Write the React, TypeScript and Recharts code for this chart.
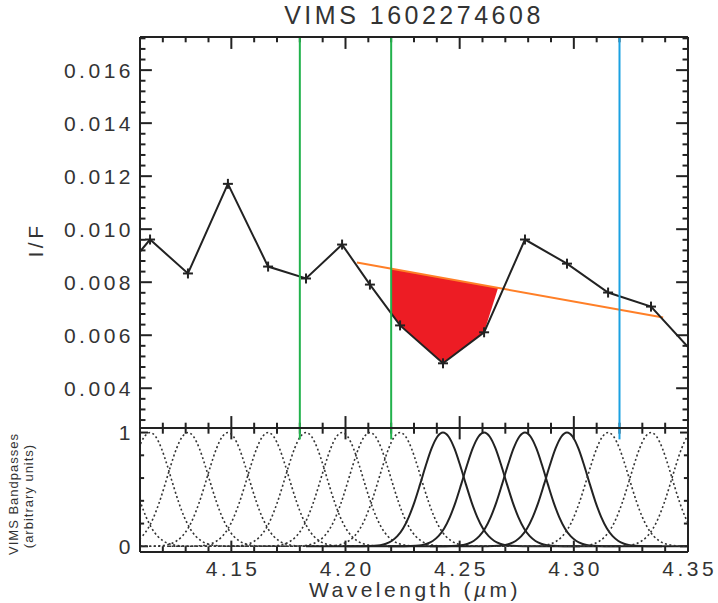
import React from 'react';
import { ComposedChart, Line, Area, XAxis, YAxis, ReferenceLine } from 'recharts';

const wavelengths = [4.0977, 4.1144, 4.131, 4.1485, 4.1661, 4.1827, 4.1985, 4.2107, 4.2239, 4.2427, 4.2607, 4.2786, 4.297, 4.315, 4.3338, 4.3522];
const iof = [0.00787, 0.00961, 0.00833, 0.01171, 0.00859, 0.00814, 0.00942, 0.00791, 0.00637, 0.00494, 0.00611, 0.00961, 0.0087, 0.00761, 0.00708, 0.00535];
// channels drawn with a solid bandpass (the rest are dotted)
const solidBand = [false, false, false, false, false, false, false, false, false, true, true, true, true, false, false, false];

// continuum line
const continuumX = [4.205, 4.3391];
const continuumY = [0.00874, 0.00667];

// red absorption area, between spectrum (low) and continuum (high)
const fillX = [4.22, 4.2239, 4.2427, 4.2607, 4.2668];
const fillLow = [0.00684, 0.00637, 0.00494, 0.00611, 0.00778];
const fillHigh = [0.00851, 0.00845, 0.00816, 0.00788, 0.00778];

// vertical marker wavelengths
const markerX = [4.18, 4.22, 4.32];

// normalised bandpass shape: offset from channel centre (µm) vs response
const profileOffset = [-0.06, -0.05, -0.04, -0.035, -0.03, -0.0275, -0.025, -0.0225, -0.02, -0.0175, -0.015, -0.0125, -0.01, -0.0075, -0.005, -0.0025, 0,
  0.0025, 0.005, 0.0075, 0.01, 0.0125, 0.015, 0.0175, 0.02, 0.0225, 0.025, 0.0275, 0.03, 0.035, 0.04, 0.05, 0.06];
const profileResp = [0, 0, 0, 0.0006, 0.0044, 0.0104, 0.023, 0.047, 0.089, 0.157, 0.257, 0.389, 0.547, 0.712, 0.86, 0.963, 1,
  0.963, 0.86, 0.712, 0.547, 0.389, 0.257, 0.157, 0.089, 0.047, 0.023, 0.0104, 0.0044, 0.0006, 0, 0, 0];

// axes
const xDomain = [4.11, 4.35];
const xMajor = [4.15, 4.2, 4.25, 4.3, 4.35];
const xLabels = ['4.15', '4.20', '4.25', '4.30', '4.35'];
const iofDomain = [0.0025, 0.01725];
const iofMajor = [0.004, 0.006, 0.008, 0.01, 0.012, 0.014, 0.016];
const iofLabels = ['0.004', '0.006', '0.008', '0.010', '0.012', '0.014', '0.016'];
const bandDomain = [-0.05, 1.04];
const bandMajor = [0, 1];
const bandLabels = ['0', '1'];

const xTicks = Array.from({ length: 24 }, (_, i) => +(4.12 + i * 0.01).toFixed(2));
const iofTicks = Array.from({ length: 37 }, (_, i) => +(0.0028 + i * 0.0004).toFixed(4));
const bandTicks = [0, 0.2, 0.4, 0.6, 0.8, 1];

const INK = '#222';
const FONT = '"Liberation Sans", Arial, sans-serif';
const markerColors = ['#22b24c', '#22b24c', '#1ba1e2'];

const spectrum = wavelengths.map((w, i) => ({ x: w, y: iof[i] }));
const continuum = continuumX.map((w, i) => ({ x: w, y: continuumY[i] }));
const absorption = fillX.map((w, i) => ({ x: w, range: [fillLow[i], fillHigh[i]] }));
const bands = wavelengths.map((c) => profileOffset.map((o, j) => ({ x: c + o, y: profileResp[j] })));

const isMajor = (majors: number[], v: number) => majors.findIndex((m) => Math.abs(m - v) < 1e-9);

// inward tick marks on the four sides, one short line per tick (lengths in data units)
function tickPaths(yTicks: number[], yMajor: number[], yDom: number[], xLen: number[], yLen: number[]) {
  const out: any[] = [];
  xTicks.forEach((t) => {
    const len = isMajor(xMajor, t) >= 0 ? yLen[0] : yLen[1];
    out.push([{ x: t, y: yDom[0] }, { x: t, y: yDom[0] + len }]);
    out.push([{ x: t, y: yDom[1] }, { x: t, y: yDom[1] - len }]);
  });
  yTicks.forEach((t) => {
    const len = isMajor(yMajor, t) >= 0 ? xLen[0] : xLen[1];
    out.push([{ x: xDomain[0], y: t }, { x: xDomain[0] + len, y: t }]);
    out.push([{ x: xDomain[1], y: t }, { x: xDomain[1] - len, y: t }]);
  });
  return out;
}

const topTicks = tickPaths(iofTicks, iofMajor, iofDomain, [0.0052, 0.0024], [0.00045, 0.0002]);
const botTicks = tickPaths(bandTicks, bandMajor, bandDomain, [0.0035, 0.0018], [0.1, 0.05]);

function makeLabel(side: 'left' | 'bottom', majors: number[], labels: string[]) {
  return (props: any) => {
    const { x, y, payload } = props;
    const mi = isMajor(majors, payload.value);
    if (mi < 0) return <g />;
    if (side === 'left') {
      return (
        <text x={x - 6} y={y + 7.5} textAnchor="end" fontSize={21} letterSpacing={3.5} fill="#333" fontFamily={FONT}>
          {labels[mi]}
        </text>
      );
    }
    return (
      <text x={x + 1.75} y={y + 24} textAnchor="middle" fontSize={21} letterSpacing={3.5} fill="#333" fontFamily={FONT}>
        {labels[mi]}
      </text>
    );
  };
}

const PlusDot = (props: any) => {
  const { cx, cy } = props;
  if (cx == null || cy == null) return null;
  return (
    <g>
      <line x1={cx - 5} x2={cx + 5} y1={cy} y2={cy} stroke={INK} strokeWidth={2} />
      <line x1={cx} x2={cx} y1={cy - 5} y2={cy + 5} stroke={INK} strokeWidth={2} />
    </g>
  );
};

const axisLine = { stroke: INK, strokeWidth: 2 };

export default function App() {
  return (
    <div style={{ position: 'absolute', left: 0, top: 0, width: 718, height: 603, background: '#fff', fontFamily: FONT }}>
      <div style={{ position: 'absolute', left: 0, top: 0 }}>
        <ComposedChart width={718} height={429} margin={{ top: 0, right: 0, bottom: 0, left: 0 }}>
          <XAxis xAxisId="b" dataKey="x" type="number" domain={xDomain} allowDataOverflow ticks={xMajor} interval={0}
            height={1} tickLine={false} axisLine={axisLine} tick={false} />
          <XAxis xAxisId="t" orientation="top" type="number" domain={xDomain} allowDataOverflow ticks={xMajor} interval={0}
            height={37} tickLine={false} axisLine={axisLine} tick={false} />
          <YAxis yAxisId="l" type="number" domain={iofDomain} allowDataOverflow ticks={iofMajor} interval={0}
            width={140} tickSize={0} tickMargin={0} tickLine={false} axisLine={axisLine}
            tick={makeLabel('left', iofMajor, iofLabels)} />
          <YAxis yAxisId="r" orientation="right" type="number" domain={iofDomain} allowDataOverflow ticks={iofMajor} interval={0}
            width={30} tickLine={false} axisLine={axisLine} tick={false} />
          {topTicks.map((d, i) => (
            <Line key={`tk${i}`} xAxisId="b" yAxisId="l" data={d} dataKey="y" type="linear" stroke={INK}
              strokeWidth={2} dot={false} isAnimationActive={false} />
          ))}
          <Area xAxisId="b" yAxisId="l" data={absorption} dataKey="range" type="linear" stroke="none"
            fill="#ed1c24" fillOpacity={1} isAnimationActive={false} />
          <Line xAxisId="b" yAxisId="l" data={continuum} dataKey="y" type="linear" stroke="#ff7f27"
            strokeWidth={2} dot={false} isAnimationActive={false} />
          <Line xAxisId="b" yAxisId="l" data={spectrum} dataKey="y" type="linear" stroke={INK}
            strokeWidth={2} dot={<PlusDot />} isAnimationActive={false} />
          {markerX.map((m, i) => (
            <ReferenceLine key={m} xAxisId="b" yAxisId="l" x={m} stroke={markerColors[i]} strokeWidth={2} />
          ))}
        </ComposedChart>
      </div>
      <div style={{ position: 'absolute', left: 0, top: 418 }}>
        <ComposedChart width={718} height={185} margin={{ top: 0, right: 0, bottom: 0, left: 0 }}>
          <XAxis xAxisId="b" dataKey="x" type="number" domain={xDomain} allowDataOverflow ticks={xMajor} interval={0}
            height={51} tickSize={0} tickMargin={0} tickLine={false} axisLine={axisLine}
            tick={makeLabel('bottom', xMajor, xLabels)} />
          <XAxis xAxisId="t" orientation="top" type="number" domain={xDomain} allowDataOverflow ticks={xMajor} interval={0}
            height={10} tickLine={false} axisLine={axisLine} tick={false} />
          <YAxis yAxisId="l" type="number" domain={bandDomain} allowDataOverflow ticks={bandMajor} interval={0}
            width={140} tickSize={0} tickMargin={0} tickLine={false} axisLine={axisLine}
            tick={makeLabel('left', bandMajor, bandLabels)} />
          <YAxis yAxisId="r" orientation="right" type="number" domain={bandDomain} allowDataOverflow ticks={bandMajor} interval={0}
            width={30} tickLine={false} axisLine={axisLine} tick={false} />
          {botTicks.map((d, i) => (
            <Line key={`tk${i}`} xAxisId="b" yAxisId="l" data={d} dataKey="y" type="linear" stroke={INK}
              strokeWidth={2} dot={false} isAnimationActive={false} />
          ))}
          {bands.map((b, i) => (
            <Line key={i} xAxisId="b" yAxisId="l" data={b} dataKey="y" type="monotone"
              stroke={solidBand[i] ? INK : '#333'} strokeWidth={solidBand[i] ? 2 : 1.6}
              strokeDasharray={solidBand[i] ? undefined : '2 2.5'} dot={false} isAnimationActive={false} />
          ))}
          {markerX.map((m, i) => (
            <ReferenceLine key={m} xAxisId="b" yAxisId="l" segment={[{ x: m, y: 0.94 }, { x: m, y: 1.04 }]}
              stroke={markerColors[i]} strokeWidth={2} />
          ))}
        </ComposedChart>
      </div>
      <svg width={718} height={603} style={{ position: 'absolute', left: 0, top: 0, pointerEvents: 'none' }}>
        <text x={414} y={24} textAnchor="middle" fontSize={25} letterSpacing={3.5} fill="#333" fontFamily={FONT}>
          VIMS 1602274608
        </text>
        <text x={415} y={597} textAnchor="middle" fontSize={21} letterSpacing={3.5} fill="#333" fontFamily={FONT}>
          Wavelength (<tspan fontStyle="italic">µ</tspan>m)
        </text>
        <text x={43} y={240} transform="rotate(-90 43 240)" textAnchor="middle" fontSize={21} letterSpacing={3.5} fill="#333" fontFamily={FONT}>
          I/F
        </text>
        <text x={18} y={494} transform="rotate(-90 18 494)" textAnchor="middle" fontSize={13} letterSpacing={1} fill="#333" fontFamily={FONT}>
          VIMS Bandpasses
        </text>
        <text x={33} y={496} transform="rotate(-90 33 496)" textAnchor="middle" fontSize={13} letterSpacing={1} fill="#333" fontFamily={FONT}>
          (arbitrary units)
        </text>
      </svg>
    </div>
  );
}
